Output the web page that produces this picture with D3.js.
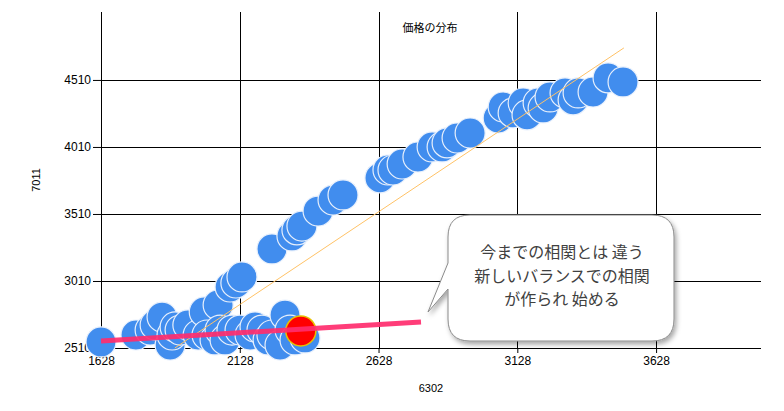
<!DOCTYPE html>
<html>
<head>
<meta charset="utf-8">
<script src="https://cdn.jsdelivr.net/npm/d3@7"></script>
<style>
  body { margin: 0; background: #fff; }
  svg { display: block; font-family: "Liberation Sans", Arial, sans-serif; }
</style>
</head>
<body>
<div id="vis"></div>
<script>
// price pairs (x = 6302, y = 7011)
const xVals = [1628, 1754, 1805, 1823, 1848, 1877, 1884, 1895, 1913, 1941, 1978, 2000, 2050, 2010, 2039,
  2057, 2075, 2100, 2129, 2165, 2183, 2208, 2230, 2244, 2273, 2291, 2309, 2327, 2363,
  2093, 2114, 2136, 2244, 2316, 2334, 2352, 2410, 2464, 2500,
  2633, 2662, 2680, 2713, 2770, 2821, 2857, 2875, 2911, 2958, 3059, 3077, 3113, 3149, 3163,
  3203, 3221, 3246, 3300, 3329, 3347, 3401, 3455, 3509];
const yVals = [2555, 2607, 2644, 2682, 2741, 2532, 2607, 2667, 2644, 2682, 2607, 2779, 2831, 2607, 2570,
  2644, 2570, 2644, 2644, 2607, 2667, 2644, 2570, 2607, 2532, 2756, 2644, 2570, 2585,
  2965, 2995, 3040, 3249, 3346, 3391, 3420, 3532, 3614, 3652,
  3779, 3838, 3838, 3883, 3935, 4010, 4010, 4040, 4077, 4114, 4226, 4308, 4264, 4338, 4249,
  4338, 4301, 4383, 4413, 4361, 4413, 4420, 4525, 4495];

const latestPoint = [2348, 2637];
const oldTrend = [[1894, 2510], [3512, 4749]];
const newTrend = [[1628, 2562], [2781, 2704]];

const xTicks = [1628, 2128, 2628, 3128, 3628];
const yTicks = [2510, 3010, 3510, 4010, 4510];

const calloutLines = ['今までの相関とは 違う', '新しいバランスでの相関', 'が作られ 始める'];

const W = 784, H = 411;
const margin = { top: 12, right: 23, bottom: 63, left: 101 };
const width = W - margin.left - margin.right;
const height = H - margin.top - margin.bottom;

const svg = d3.select('#vis').append('svg').attr('width', W).attr('height', H);

const defs = svg.append('defs');
const shadow = defs.append('filter').attr('id', 'shadow')
  .attr('x', '-20%').attr('y', '-20%').attr('width', '140%').attr('height', '140%');
shadow.append('feDropShadow')
  .attr('dx', 2).attr('dy', 3).attr('stdDeviation', 2.5)
  .attr('flood-color', '#000').attr('flood-opacity', 0.35);

const x = d3.scaleLinear().domain([1628, 4006]).range([0, width]);
const y = d3.scaleLinear().domain([2510, 5017]).range([height, 0]);

const plot = svg.append('g').attr('transform', `translate(${margin.left}, ${margin.top})`);

// grid
plot.append('g').selectAll('line').data(yTicks).join('line')
  .attr('x1', 0).attr('x2', width)
  .attr('y1', d => Math.round(y(d)) + 0.5).attr('y2', d => Math.round(y(d)) + 0.5)
  .attr('stroke', '#000');
plot.append('g').selectAll('line').data(xTicks).join('line')
  .attr('x1', d => Math.round(x(d)) + 0.5).attr('x2', d => Math.round(x(d)) + 0.5)
  .attr('y1', 0).attr('y2', height)
  .attr('stroke', '#000');

// axes
const xAxis = d3.axisBottom(x).tickValues(xTicks).tickSize(5).tickPadding(3).tickFormat(d3.format('d'));
const yAxis = d3.axisLeft(y).tickValues(yTicks).tickSize(8).tickPadding(2).tickFormat(d3.format('d'));

plot.append('g').attr('transform', `translate(0, ${height})`).call(xAxis)
  .call(g => g.select('.domain').remove())
  .call(g => g.selectAll('text').attr('font-size', 12).attr('fill', '#000').attr('font-family', 'Liberation Sans, Arial, sans-serif'));
plot.append('g').call(yAxis)
  .call(g => g.select('.domain').remove())
  .call(g => g.selectAll('text').attr('font-size', 12).attr('fill', '#000').attr('font-family', 'Liberation Sans, Arial, sans-serif'));

// axis titles
svg.append('text')
  .attr('x', margin.left + width / 2).attr('y', 392)
  .attr('text-anchor', 'middle').attr('font-size', 11)
  .text('6302');
svg.append('text')
  .attr('transform', `translate(40, ${margin.top + height / 2}) rotate(-90)`)
  .attr('text-anchor', 'middle').attr('font-size', 11)
  .text('7011');
svg.append('text')
  .attr('x', 430).attr('y', 32)
  .attr('text-anchor', 'middle').attr('font-size', 11)
  .attr('font-family', '"Noto Sans CJK JP", sans-serif')
  .text('価格の分布');

// points
const pts = xVals.map((d, i) => ({ x: d, y: yVals[i] }));
plot.append('g').selectAll('circle').data(pts).join('circle')
  .attr('cx', d => x(d.x)).attr('cy', d => y(d.y)).attr('r', 15)
  .attr('fill', '#418DEE')
  .attr('stroke', '#e8f0fc').attr('stroke-width', 1.2);

// old trend
const line = d3.line().x(d => x(d[0])).y(d => y(d[1]));
plot.append('path').datum(oldTrend)
  .attr('d', line).attr('fill', 'none')
  .attr('stroke', '#ffc266').attr('stroke-width', 1);

// latest point
plot.append('circle')
  .attr('cx', x(latestPoint[0])).attr('cy', y(latestPoint[1])).attr('r', 15)
  .attr('fill', '#ff0000').attr('stroke', '#e8c000').attr('stroke-width', 1.5);

// new trend
plot.append('path').datum(newTrend)
  .attr('d', line).attr('fill', 'none')
  .attr('stroke', '#ff2d6e').attr('stroke-opacity', 0.92).attr('stroke-width', 5);

// callout
const bx = 448, by = 215, bw = 226, bh = 126, r = 22;
const tip = [428, 312];
const callPath = [
  `M${bx + r},${by}`,
  `H${bx + bw - r}`, `Q${bx + bw},${by} ${bx + bw},${by + r}`,
  `V${by + bh - r}`, `Q${bx + bw},${by + bh} ${bx + bw - r},${by + bh}`,
  `H${bx + r}`, `Q${bx},${by + bh} ${bx},${by + bh - r}`,
  `V${by + 74}`, `L${tip[0]},${tip[1]}`, `L${bx},${by + 48}`,
  `V${by + r}`, `Q${bx},${by} ${bx + r},${by}`, 'Z'
].join(' ');
svg.append('path')
  .attr('d', callPath)
  .attr('fill', '#fff').attr('stroke', '#8a8a8a').attr('stroke-width', 1)
  .attr('filter', 'url(#shadow)');

const callText = svg.append('text')
  .attr('text-anchor', 'middle')
  .attr('font-size', 16)
  .attr('font-family', '"Noto Sans CJK JP", sans-serif')
  .attr('fill', '#404040');
callText.selectAll('tspan').data(calloutLines).join('tspan')
  .attr('x', 562).attr('y', (d, i) => 258 + i * 23.5)
  .text(d => d);
</script>
</body>
</html>
